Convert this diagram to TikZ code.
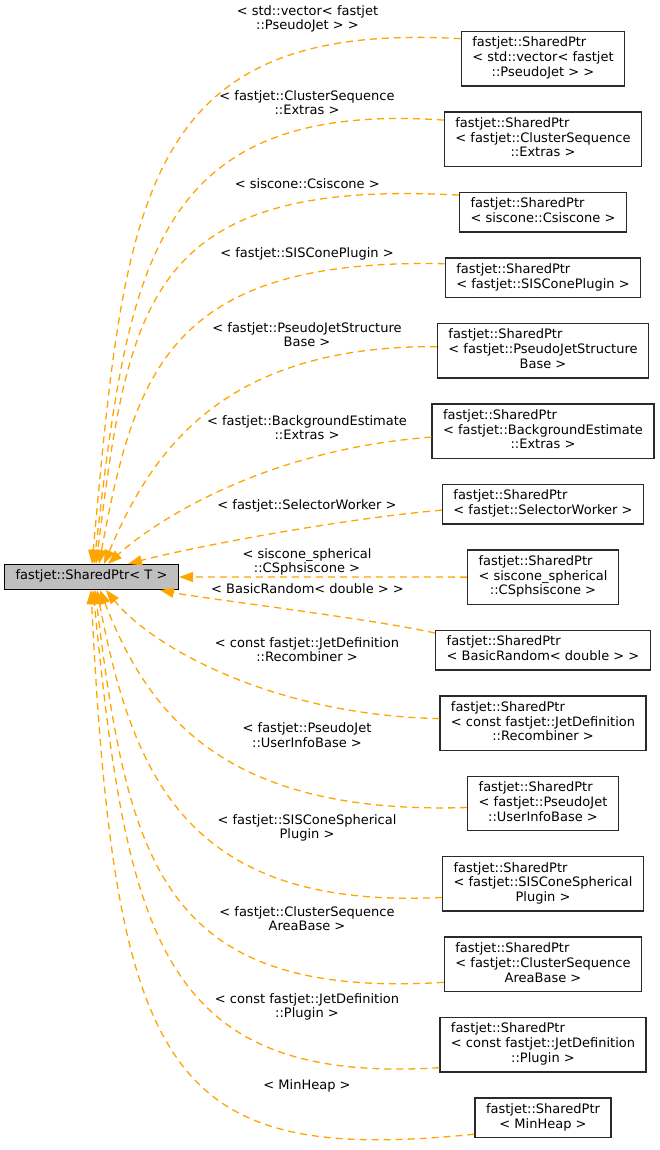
\documentclass[tikz,border=0pt]{standalone}
\usepackage{fontspec}
\setmainfont{DejaVu Sans}
\usepackage{tikz}
\usetikzlibrary{arrows.meta,positioning}
\definecolor{basegray}{HTML}{BFBFBF}
\definecolor{inhorange}{HTML}{FFA500}
\definecolor{boxline}{HTML}{2A2A2A}
\newcommand{\leftlines}[1]{\begin{tabular}{@{}l@{}}#1\end{tabular}}
\newcommand{\midlines}[1]{\begin{tabular}{@{}c@{}}#1\end{tabular}}
\newcommand{\midrow}[1]{\multicolumn{1}{@{}c@{}}{#1}}
\tikzset{main node/.style={rectangle,draw=black,fill=basegray,line width=1.3pt,inner xsep=11pt,inner ysep=5pt,font=\fontsize{13}{14.8}\selectfont},
sub node/.style={rectangle,draw=boxline,fill=white,line width=1.3pt,inner xsep=11pt,inner ysep=5pt,font=\fontsize{13}{14.8}\selectfont},
tag node/.style={align=center,inner sep=0pt,font=\fontsize{13}{14.3}\selectfont},
inh/.style={draw=inhorange,line width=1.3pt,dash pattern=on 7pt off 5pt,-{Triangle[length=14pt,width=10pt,fill=inhorange]}}
}

\begin{document}
\begin{tikzpicture}[x=1pt,y=-1pt,node distance=24.7pt]
\fill[white] (0,0) rectangle (660,1150);
\useasboundingbox (0,0) rectangle (660,1150);

\node[main node] (shared) at (91.5,577) {\leftlines{fastjet::SharedPtr< T >}};

\node[sub node] (vec) at (543,58.7) {\leftlines{fastjet::SharedPtr\\< std::vector< fastjet\\\midrow{::PseudoJet > >}}};
\node[sub node] (csextras) [below=of vec] {\leftlines{fastjet::SharedPtr\\< fastjet::ClusterSequence\\\midrow{::Extras >}}};
\node[sub node] (csiscone) [below=of csextras] {\leftlines{fastjet::SharedPtr\\< siscone::Csiscone >}};
\node[sub node] (sisplugin) [below=of csiscone] {\leftlines{fastjet::SharedPtr\\< fastjet::SISConePlugin >}};
\node[sub node] (pjstruct) [below=of sisplugin] {\leftlines{fastjet::SharedPtr\\< fastjet::PseudoJetStructure\\\midrow{Base >}}};
\node[sub node] (bgextras) [below=of pjstruct] {\leftlines{fastjet::SharedPtr\\< fastjet::BackgroundEstimate\\\midrow{::Extras >}}};
\node[sub node] (selworker) [below=of bgextras] {\leftlines{fastjet::SharedPtr\\< fastjet::SelectorWorker >}};
\node[sub node] (sphsiscone) [below=of selworker] {\leftlines{fastjet::SharedPtr\\< siscone\_spherical\\\midrow{::CSphsiscone >}}};
\node[sub node] (basicrand) [below=of sphsiscone] {\leftlines{fastjet::SharedPtr\\< BasicRandom< double > >}};
\node[sub node] (recomb) [below=of basicrand] {\leftlines{fastjet::SharedPtr\\< const fastjet::JetDefinition\\\midrow{::Recombiner >}}};
\node[sub node] (userinfo) [below=of recomb] {\leftlines{fastjet::SharedPtr\\< fastjet::PseudoJet\\\midrow{::UserInfoBase >}}};
\node[sub node] (sissphplugin) [below=of userinfo] {\leftlines{fastjet::SharedPtr\\< fastjet::SISConeSpherical\\\midrow{Plugin >}}};
\node[sub node] (csareabase) [below=of sissphplugin] {\leftlines{fastjet::SharedPtr\\< fastjet::ClusterSequence\\\midrow{AreaBase >}}};
\node[sub node] (jdplugin) [below=of csareabase] {\leftlines{fastjet::SharedPtr\\< const fastjet::JetDefinition\\\midrow{::Plugin >}}};
\node[sub node] (minheap) [below=of jdplugin] {\midlines{fastjet::SharedPtr\\< MinHeap >}};

% template arguments
\node[tag node] (lvec) at (307.5,19) {< std::vector< fastjet\\::PseudoJet > >};
\node[tag node] (lcsextras) at (307,103) {< fastjet::ClusterSequence\\::Extras >};
\node[tag node] (lcsiscone) at (307.3,183.3) {< siscone::Csiscone >};
\node[tag node] (lsisplugin) at (307,254) {< fastjet::SISConePlugin >};
\node[tag node] (lpjstruct) at (307,335) {< fastjet::PseudoJetStructure\\Base >};
\node[tag node] (lbgextras) at (307,427.5) {< fastjet::BackgroundEstimate\\::Extras >};
\node[tag node] (lselworker) at (307,505.6) {< fastjet::SelectorWorker >};
\node[tag node] (lsphsiscone) at (307,561.7) {< siscone\_spherical\\::CSphsiscone >};
\node[tag node] (lbasicrand) at (307.5,588.3) {< BasicRandom< double > >};
\node[tag node] (lrecomb) at (307,649.7) {< const fastjet::JetDefinition\\::Recombiner >};
\node[tag node] (luserinfo) at (307,735) {< fastjet::PseudoJet\\::UserInfoBase >};
\node[tag node] (lsissphplugin) at (307,828) {< fastjet::SISConeSpherical\\Plugin >};
\node[tag node] (lcsareabase) at (307,918.5) {< fastjet::ClusterSequence\\AreaBase >};
\node[tag node] (ljdplugin) at (307,1007) {< const fastjet::JetDefinition\\::Plugin >};
\node[tag node] (lminheap) at (307,1085.5) {< MinHeap >};

\draw[inh] ([yshift=20pt]vec.west) .. controls (140,20) and (125,200) .. ([xshift=0.5pt]shared.north);
\draw[inh] ([yshift=19pt]csextras.west) .. controls (150,100) and (128,270) .. ([xshift=2.5pt]shared.north);
\draw[inh] ([yshift=17pt]csiscone.west) .. controls (145,178) and (129,304) .. ([xshift=4.5pt]shared.north);
\draw[inh] ([yshift=14pt]sisplugin.west) .. controls (170,258) and (135,370) .. ([xshift=7.5pt]shared.north);
\draw[inh] ([yshift=4pt]pjstruct.west) .. controls (220,345) and (150,455) .. ([xshift=12.5pt]shared.north);
\draw[inh] ([yshift=-6pt]bgextras.west) .. controls (260,450) and (150,525) .. ([xshift=16.5pt]shared.north);
\draw[inh] ([yshift=-6pt]selworker.west) .. controls (330,520) and (180,550) .. ([xshift=36.5pt]shared.north);
\draw[inh] (sphsiscone.west) -- (shared.east);
\draw[inh] ([yshift=17pt]basicrand.west) .. controls (380,620) and (200,598) .. ([xshift=68.5pt]shared.south);
\draw[inh] ([yshift=4.5pt]recomb.west) .. controls (270,715) and (150,645) .. ([xshift=14.5pt]shared.south);
\draw[inh] ([yshift=-4pt]userinfo.west) .. controls (230,815) and (150,720) .. ([xshift=8.5pt]shared.south);
\draw[inh] ([yshift=-13.5pt]sissphplugin.west) .. controls (190,910) and (133,780) .. ([xshift=5.5pt]shared.south);
\draw[inh] ([yshift=-18pt]csareabase.west) .. controls (160,1000) and (128,860) .. ([xshift=3.5pt]shared.south);
\draw[inh] ([yshift=-23pt]jdplugin.west) .. controls (160,1085) and (127,935) .. ([xshift=1.5pt]shared.south);
\draw[inh] ([yshift=-16.5pt]minheap.west) .. controls (170,1165) and (115,1080) .. ([xshift=-0.5pt]shared.south);
\end{tikzpicture}
\end{document}
